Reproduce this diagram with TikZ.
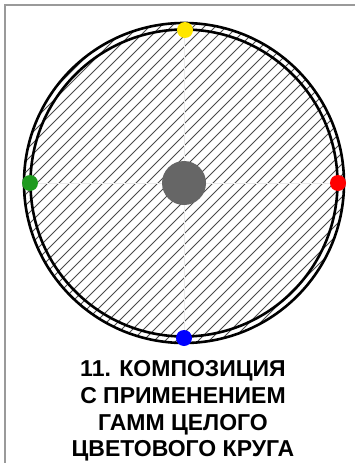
\documentclass[tikz,border=0pt]{standalone}
\usepackage{fontspec}
\newfontfamily\labfont{Liberation Sans}
\definecolor{frameg}{HTML}{9A9A9A}
\definecolor{hatchg}{HTML}{4A4A4A}
\definecolor{dotgray}{HTML}{666666}
\definecolor{dyellow}{HTML}{FFE600}
\definecolor{dgreen}{HTML}{1E9A1E}
\definecolor{dred}{HTML}{FF0000}
\definecolor{dblue}{HTML}{0000FF}
\tikzset{
  ring/.style={draw=black, line width=2.6pt},
  hatchline/.style={draw=hatchg, line width=0.9pt},
  guide/.style={draw=black!8, line width=0.5pt},
  marker/.style={circle, inner sep=0pt, minimum size=16pt},
  label/.style={font=\labfont\bfseries\fontsize{23}{27}\selectfont, inner sep=0pt, anchor=base}
}
\begin{document}
\begin{tikzpicture}[x=1pt,y=-1pt]
\useasboundingbox (0,0) rectangle (355,463);
\fill[white] (0,0) rectangle (355,463);
% frame
\draw[frameg, line width=1.6pt] (5,463) -- (5,5) -- (355,5);
% hatching clipped to outer circle
\begin{scope}
  \clip (184,183) circle (160);
  \foreach \c in {0,11,...,720} {
    \draw[hatchline] (\c,0) -- (\c-500,500);
  }
\end{scope}
% guides
\coordinate (gt) at (184,23);
\coordinate (gb) at (184,343);
\coordinate (gl) at (24,183);
\coordinate (gr) at (344,183);
\draw[guide] (gt) -- (gb);
\draw[guide] (gl) -- (gr);
% rings
\draw[ring] (184,183) circle (160);
\draw[ring] (184,183) circle (153.5);
% center
\node[circle, fill=dotgray, inner sep=0pt, minimum size=44pt] (center) at (184,183) {};
% markers
\node[marker, fill=dyellow] (yel) at (185,30) {};
\node[marker, fill=dgreen] (grn) at (30,183) {};
\node[marker, fill=dred] (red) at (338,183) {};
\node[marker, fill=dblue] (blu) at (184,338) {};
% labels
\node[label] (l1) at (183,376) {11. КОМПОЗИЦИЯ};
\node[label] (l2) at (183,403) {С ПРИМЕНЕНИЕМ};
\node[label] (l3) at (183,430) {ГАММ ЦЕЛОГО};
\node[label] (l4) at (183,456) {ЦВЕТОВОГО КРУГА};
\end{tikzpicture}
\end{document}
